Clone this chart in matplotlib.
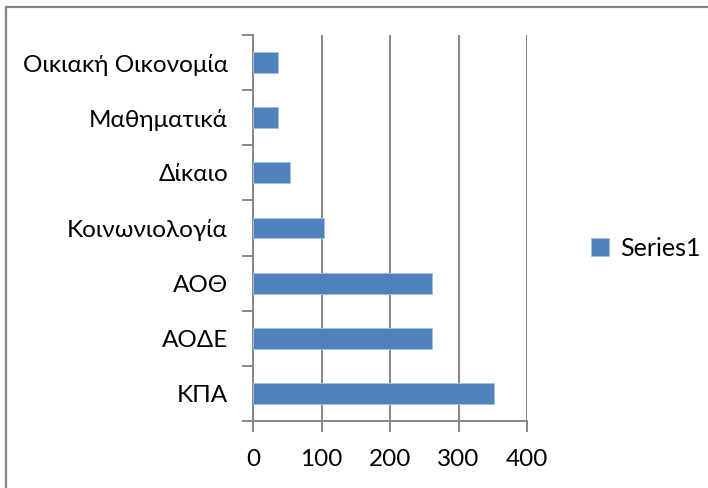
import matplotlib.pyplot as plt
from matplotlib.lines import Line2D

plt.rcParams['font.family'] = ['Lato', 'DejaVu Sans']

categories = ['ΚΠΑ', 'ΑΟΔΕ', 'ΑΟΘ', 'Κοινωνιολογία', 'Δίκαιο', 'Μαθηματικά', 'Οικιακή Οικονομία']
values = [352, 262, 262, 104, 54, 37, 37]
series_name = 'Series1'
xticks = [0, 100, 200, 300, 400]

grey = '#868686'
bar_color = '#4F81BD'

fig = plt.figure(figsize=(7.08, 4.88), dpi=100)
ax = fig.add_axes([253 / 708, 1 - 421 / 488, 274 / 708, 386 / 488])

ypos = range(len(categories))
ax.barh(ypos, values, height=0.38, color=bar_color, edgecolor='#a9c1e0',
        linewidth=0.6, label=series_name, zorder=3)

ax.set_xlim(0, 400)
ax.set_ylim(-0.5, len(categories) - 0.5)
ax.set_xticks(xticks)
ax.set_xticklabels([str(t) for t in xticks])
ax.grid(axis='x', color=grey, linewidth=1.4, zorder=0)

# boundary ticks on y like Excel, labels on minor ticks
ax.set_yticks([i - 0.5 for i in range(len(categories) + 1)])
ax.set_yticklabels([])
ax.set_yticks(list(ypos), minor=True)
ax.set_yticklabels(categories, minor=True)
ax.tick_params(axis='y', which='major', length=8, width=1.4, color=grey)
ax.tick_params(axis='y', which='minor', length=0, pad=18, labelsize=17.5)
ax.tick_params(axis='x', length=8, width=1.4, color=grey, pad=12, labelsize=17.5)

for s in ['top', 'right']:
    ax.spines[s].set_visible(False)
for s in ['left', 'bottom']:
    ax.spines[s].set_color(grey)
    ax.spines[s].set_linewidth(1.4)

ax.legend(loc='center left', bbox_to_anchor=(568 / 708, 1 - 248 / 488),
          bbox_transform=fig.transFigure, frameon=False, fontsize=18,
          handlelength=0.75, handleheight=0.75, handletextpad=0.45)

# outer frame (only left and top visible)
fig.add_artist(Line2D([5.5 / 708, 5.5 / 708], [0, 1 - 6.5 / 488], color=grey,
                      linewidth=1.6, transform=fig.transFigure))
fig.add_artist(Line2D([5.5 / 708, 1], [1 - 6.5 / 488, 1 - 6.5 / 488], color=grey,
                      linewidth=1.6, transform=fig.transFigure))

fig.savefig('out.png', dpi=100)
